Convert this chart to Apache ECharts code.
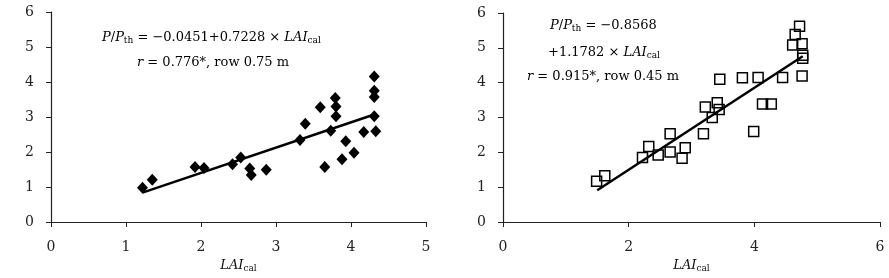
<!DOCTYPE html>
<html>
<head>
<meta charset="utf-8">
<script src="https://cdn.jsdelivr.net/npm/echarts@6/dist/echarts.min.js"></script>
<style>
html,body{margin:0;padding:0;background:#fff;}
#main{width:889px;height:278px;}
</style>
</head>
<body>
<div id="main"></div>
<script>
// row 0.75 m (left panel, diamonds)
var leftX = [1.22,1.35,1.92,2.04,2.42,2.53,2.65,2.67,2.87,3.32,3.39,3.59,3.65,3.73,3.79,3.80,3.80,3.88,3.93,4.04,4.17,4.31,4.31,4.31,4.31,4.33];
var leftY = [0.98,1.21,1.57,1.54,1.65,1.84,1.53,1.34,1.49,2.34,2.81,3.28,1.57,2.61,3.54,3.30,3.02,1.79,2.31,1.98,2.57,4.16,3.75,3.57,3.02,2.59];
var leftFit = [[1.22,0.84],[4.31,3.07]];

// row 0.45 m (right panel, squares)
var rightX = [1.49,1.62,2.22,2.32,2.47,2.66,2.66,2.85,2.90,3.19,3.22,3.33,3.41,3.44,3.45,3.81,3.99,4.06,4.13,4.27,4.45,4.76,4.72,4.65,4.61,4.76,4.77,4.77];
var rightY = [1.17,1.33,1.85,2.17,1.92,2.53,2.01,1.83,2.13,2.53,3.30,3.00,3.42,3.23,4.10,4.14,2.60,4.15,3.39,3.39,4.15,4.19,5.62,5.38,5.08,5.12,4.79,4.70];
var rightFit = [[1.50,0.91],[4.77,4.76]];

var leftTicks = {min:0, max:5, interval:1};
var rightTicks = {min:0, max:6, interval:2};
var yTicks = {min:0, max:6, interval:1};

var FONT = 'DejaVu Serif';
var chart = echarts.init(document.getElementById('main'));

function pairs(xs, ys) {
	var out = [];
	xs.forEach(function (x, i) { out.push([x, ys[i]]); });
	return out;
}

var richText = {
	n: {fontFamily: FONT, fontSize: 13, color: '#111'},
	i: {fontFamily: FONT, fontSize: 13, fontStyle: 'italic', color: '#111'},
	s: {fontFamily: FONT, fontSize: 9, color: '#111', verticalAlign: 'bottom', padding: [6, 0, 0, 0]}
};

function xAxisOf(idx, t) {
	return {
		gridIndex: idx, type: 'value', min: t.min, max: t.max, interval: t.interval,
		name: '{i|LAI}{s|cal}', nameLocation: 'middle', nameGap: 36,
		nameTextStyle: {rich: richText},
		axisLine: {lineStyle: {color: '#222', width: 1.2}},
		axisTick: {show: true, length: 5, lineStyle: {color: '#222'}},
		axisLabel: {fontFamily: FONT, fontSize: 14, color: '#222', margin: 18},
		splitLine: {show: false}
	};
}
function yAxisOf(idx) {
	return {
		gridIndex: idx, type: 'value', min: yTicks.min, max: yTicks.max, interval: yTicks.interval,
		axisLine: {show: true, lineStyle: {color: '#222', width: 1.2}},
		axisTick: {show: true, length: 5, lineStyle: {color: '#222'}},
		axisLabel: {fontFamily: FONT, fontSize: 14, color: '#222', margin: 17, padding: [0, 0, 4, 0]},
		splitLine: {show: false}
	};
}

var option = {
	backgroundColor: '#fff',
	animation: false,
	grid: [
		{left: 51, right: 463, top: 12, bottom: 55},
		{left: 503, right: 9, top: 13, bottom: 51}
	],
	xAxis: [xAxisOf(0, leftTicks), xAxisOf(1, rightTicks)],
	yAxis: [yAxisOf(0), yAxisOf(1)],
	graphic: [
		{type: 'text', left: 102, top: 31, style: {
			text: '{i|P}{n|/}{i|P}{s|th}{n| = \u22120.0451+0.7228 \u00d7 }{i|LAI}{s|cal}', rich: richText}},
		{type: 'text', left: 137, top: 56, style: {
			text: '{i|r}{n| = 0.776*, row 0.75 m}', rich: richText}},
		{type: 'text', left: 550, top: 19, style: {
			text: '{i|P}{n|/}{i|P}{s|th}{n| = \u22120.8568}', rich: richText}},
		{type: 'text', left: 548, top: 46, style: {
			text: '{n|+1.1782 \u00d7 }{i|LAI}{s|cal}', rich: richText}},
		{type: 'text', left: 527, top: 70, style: {
			text: '{i|r}{n| = 0.915*, row 0.45 m}', rich: richText}}
	],
	series: [
		{
			type: 'line', xAxisIndex: 0, yAxisIndex: 0, data: leftFit,
			symbol: 'none', lineStyle: {color: '#000', width: 2.5}, z: 3
		},
		{
			type: 'scatter', xAxisIndex: 0, yAxisIndex: 0, data: pairs(leftX, leftY),
			symbol: 'diamond', symbolSize: [11, 12], itemStyle: {color: '#000', opacity: 1}, z: 4
		},
		{
			type: 'line', xAxisIndex: 1, yAxisIndex: 1, data: rightFit,
			symbol: 'none', lineStyle: {color: '#000', width: 2.5}, z: 3
		},
		{
			type: 'scatter', xAxisIndex: 1, yAxisIndex: 1, data: pairs(rightX, rightY),
			symbol: 'rect', symbolSize: 10,
			itemStyle: {color: 'rgba(255,255,255,0)', borderColor: '#000', borderWidth: 1.5, opacity: 1}, z: 4
		}
	]
};
chart.setOption(option);
</script>
</body>
</html>
